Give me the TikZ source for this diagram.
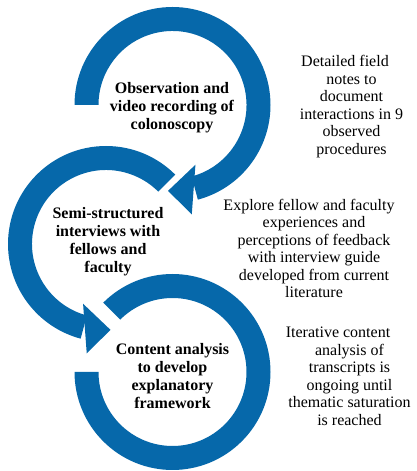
\documentclass[tikz,border=0pt]{standalone}
\usepackage{fontspec}
\setmainfont{Liberation Serif}
\definecolor{ringblue}{RGB}{6,104,170}
\begin{document}
\begin{tikzpicture}[x=1pt,y=1pt,
  ring/.style={fill=ringblue},
  steptext/.style={font=\bfseries\fontsize{16}{18}\selectfont,align=center,inner sep=0pt},
  notetext/.style={font=\fontsize{16}{17.5}\selectfont,align=center,inner sep=0pt}]
\useasboundingbox (0,0) rectangle (417,471);
\def\Rout{98}
\def\Rin{74}
% centres of the three rings
\coordinate (c1) at (172.5,366);
\coordinate (c2) at (106,227);
\coordinate (c3) at (172.5,99);

% ring 1: clockwise from the left, arrow head at the bottom
\fill[ring] ([shift={(c1)}]180:\Rout) arc[start angle=180,end angle=-75,radius=\Rout]
  -- ([shift={(c1)}]-75:\Rin) arc[start angle=-75,end angle=180,radius=\Rin] -- cycle;
\fill[ring] ([shift={(c1)}]-69:64) -- ([shift={(c1)}]-93:86) -- ([shift={(c1)}]-80:111) -- cycle;

% ring 2: counter-clockwise from the upper right, arrow head at the bottom
\fill[ring] ([shift={(c2)}]45:\Rout) arc[start angle=45,end angle=255,radius=\Rout]
  -- ([shift={(c2)}]255:\Rin) arc[start angle=255,end angle=45,radius=\Rin] -- cycle;
\fill[ring] ([shift={(c2)}]-111:64) -- ([shift={(c2)}]-87:86) -- ([shift={(c2)}]-100:111) -- cycle;

% ring 3: clockwise from the upper left to the left side
\fill[ring] ([shift={(c3)}]135:\Rout) arc[start angle=135,end angle=-180,radius=\Rout]
  -- ([shift={(c3)}]-180:\Rin) arc[start angle=-180,end angle=135,radius=\Rin] -- cycle;

% step labels
\node[steptext] (s1) at (172,363.5) {Observation and\\video recording of\\colonoscopy};
\node[steptext] (s2) at (108,229.5) {Semi-structured\\interviews with\\fellows and\\faculty};
\node[steptext] (s3) at (172.5,94.5) {Content analysis\\to develop\\explanatory\\framework};

% notes (the first line of each carries a trailing space)
\node[notetext] (n1) at (351.5,364.5) {Detailed field\kern13pt\\notes to\\document\\interactions in 9\\observed\\procedures};
\node[notetext] (n2) at (314,222.5) {Explore fellow and faculty\kern10pt\\experiences and\\perceptions of feedback\\with interview guide\\developed from current\\literature};
\node[notetext] (n3) at (349.5,94.5) {Iterative content\kern23pt\\analysis of\\transcripts is\\ongoing until\\thematic saturation\\is reached};
\end{tikzpicture}
\end{document}
